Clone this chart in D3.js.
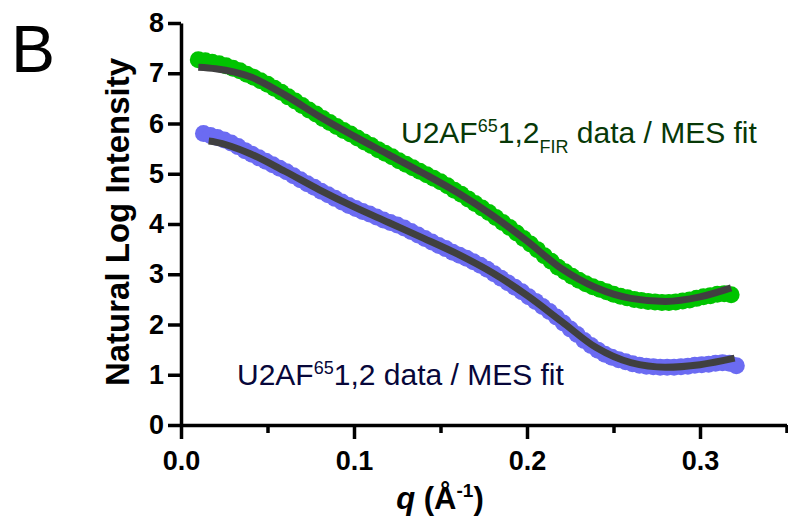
<!DOCTYPE html>
<html>
<head>
<meta charset="utf-8">
<script src="https://cdn.jsdelivr.net/npm/d3@7"></script>
<style>
  body { margin: 0; background: #fff; }
  svg text { font-family: "Liberation Sans", Arial, sans-serif; }
</style>
</head>
<body>
<div id="chart"></div>
<script>
// svg size
var svgWidth = 788;
var svgHeight = 525;

// U2AF65 1,2 FIR data (green)
var qFir = [0.010, 0.014, 0.018, 0.022, 0.026, 0.030, 0.034, 0.038, 0.042, 0.046,
  0.050, 0.054, 0.058, 0.062, 0.066, 0.070, 0.074, 0.078, 0.082, 0.086,
  0.090, 0.094, 0.098, 0.102, 0.106, 0.110, 0.114, 0.118, 0.122, 0.126,
  0.130, 0.134, 0.138, 0.142, 0.146, 0.150, 0.154, 0.158, 0.162, 0.166,
  0.170, 0.174, 0.178, 0.182, 0.186, 0.190, 0.194, 0.198, 0.202, 0.206,
  0.210, 0.214, 0.218, 0.222, 0.226, 0.230, 0.234, 0.238, 0.242, 0.246,
  0.250, 0.254, 0.258, 0.262, 0.266, 0.270, 0.274, 0.278, 0.282, 0.286,
  0.290, 0.294, 0.298, 0.302, 0.306, 0.310, 0.314, 0.318];
var lnFir = [7.27, 7.25, 7.22, 7.19, 7.15, 7.10, 7.05, 6.98, 6.92, 6.85,
  6.78, 6.70, 6.62, 6.53, 6.45, 6.36, 6.27, 6.19, 6.10, 6.02,
  5.94, 5.86, 5.79, 5.71, 5.63, 5.56, 5.48, 5.41, 5.34, 5.26,
  5.19, 5.12, 5.05, 4.98, 4.91, 4.84, 4.76, 4.67, 4.59, 4.50,
  4.41, 4.32, 4.23, 4.13, 4.03, 3.93, 3.82, 3.71, 3.60, 3.49,
  3.37, 3.26, 3.14, 3.05, 2.96, 2.88, 2.81, 2.75, 2.70, 2.65,
  2.60, 2.56, 2.53, 2.50, 2.48, 2.46, 2.45, 2.44, 2.44, 2.45,
  2.47, 2.49, 2.52, 2.55, 2.57, 2.60, 2.61, 2.59];

// U2AF65 1,2 data (blue)
var qWt = [0.013, 0.017, 0.021, 0.025, 0.029, 0.033, 0.037, 0.041, 0.045, 0.049,
  0.053, 0.057, 0.061, 0.065, 0.069, 0.073, 0.077, 0.081, 0.085, 0.089,
  0.093, 0.097, 0.101, 0.105, 0.109, 0.113, 0.117, 0.121, 0.125, 0.129,
  0.133, 0.137, 0.141, 0.145, 0.149, 0.153, 0.157, 0.161, 0.165, 0.169,
  0.173, 0.177, 0.181, 0.185, 0.189, 0.193, 0.197, 0.201, 0.205, 0.209,
  0.213, 0.217, 0.221, 0.225, 0.229, 0.233, 0.237, 0.241, 0.245, 0.249,
  0.253, 0.257, 0.261, 0.265, 0.269, 0.273, 0.277, 0.281, 0.285, 0.289,
  0.293, 0.297, 0.301, 0.305, 0.309, 0.313, 0.317, 0.321];
var lnWt = [5.80, 5.76, 5.72, 5.67, 5.61, 5.54, 5.46, 5.39, 5.32, 5.25,
  5.18, 5.11, 5.04, 4.96, 4.88, 4.80, 4.73, 4.65, 4.58, 4.51,
  4.44, 4.37, 4.31, 4.25, 4.20, 4.14, 4.08, 4.03, 3.98, 3.92,
  3.85, 3.78, 3.71, 3.64, 3.57, 3.51, 3.44, 3.38, 3.32, 3.25,
  3.18, 3.10, 3.01, 2.92, 2.83, 2.74, 2.65, 2.55, 2.46, 2.36,
  2.26, 2.15, 2.03, 1.91, 1.80, 1.68, 1.58, 1.49, 1.41, 1.35,
  1.30, 1.26, 1.22, 1.19, 1.17, 1.16, 1.15, 1.15, 1.15, 1.16,
  1.17, 1.19, 1.20, 1.21, 1.23, 1.24, 1.23, 1.18];

// MES fits
var qFirFit = [0.010, 0.020, 0.040, 0.060, 0.080, 0.100, 0.120, 0.140, 0.160,
  0.180, 0.200, 0.220, 0.240, 0.260, 0.280, 0.300, 0.318];
var lnFirFit = [7.12, 7.09, 6.93, 6.57, 6.14, 5.75, 5.38, 5.01, 4.62,
  4.17, 3.66, 3.11, 2.73, 2.52, 2.46, 2.55, 2.73];
var qWtFit = [0.016, 0.020, 0.040, 0.060, 0.080, 0.100, 0.120, 0.140, 0.160,
  0.180, 0.200, 0.220, 0.240, 0.260, 0.280, 0.300, 0.320];
var lnWtFit = [5.65, 5.63, 5.40, 5.05, 4.68, 4.34, 4.03, 3.72, 3.40,
  3.03, 2.58, 2.06, 1.54, 1.24, 1.15, 1.20, 1.33];

// ticks
var xMajor = [0, 0.1, 0.2, 0.3];
var xMinor = [0.05, 0.15, 0.25, 0.35];
var yTicks = [0, 1, 2, 3, 4, 5, 6, 7, 8];

var svg = d3.select("#chart").append("svg")
  .attr("width", svgWidth)
  .attr("height", svgHeight);

var xScale = d3.scaleLinear().domain([0, 0.35]).range([181, 786.5]);
var yScale = d3.scaleLinear().domain([0, 8]).range([425, 23]);

// data points
function drawPoints(qs, vals, color) {
  svg.append("g").selectAll("circle")
    .data(qs)
    .enter()
    .append("circle")
    .attr("cx", d => xScale(d))
    .attr("cy", (d, i) => yScale(vals[i]))
    .attr("r", 8.5)
    .attr("fill", color);
}
drawPoints(qFir, lnFir, "#00c400");
drawPoints(qWt, lnWt, "#6b6bf2");

// fit lines
var line = d3.line()
  .x(d => xScale(d[0]))
  .y(d => yScale(d[1]))
  .curve(d3.curveMonotoneX);

function drawFit(qs, vals) {
  svg.append("path")
    .datum(qs.map((q, i) => [q, vals[i]]))
    .attr("d", line)
    .attr("fill", "none")
    .attr("stroke", "#404040")
    .attr("stroke-width", 7);
}
drawFit(qFirFit, lnFirFit);
drawFit(qWtFit, lnWtFit);

// axes
svg.append("g")
  .attr("transform", "translate(0," + yScale(0) + ")")
  .call(d3.axisBottom(xScale).tickValues(xMajor).tickSize(14).tickSizeOuter(0)
    .tickPadding(12).tickFormat(d3.format(".1f")));
svg.append("g")
  .attr("transform", "translate(0," + yScale(0) + ")")
  .call(d3.axisBottom(xScale).tickValues(xMinor).tickSize(8).tickSizeOuter(0)
    .tickFormat(""))
  .select(".domain").remove();
svg.append("g")
  .attr("transform", "translate(" + xScale(0) + ",0)")
  .call(d3.axisLeft(yScale).tickValues(yTicks).tickSize(13).tickSizeOuter(0)
    .tickPadding(4).tickFormat(d3.format("d")));

svg.selectAll(".domain, .tick line")
  .attr("stroke", "#000")
  .attr("stroke-width", 3.5);
svg.selectAll(".tick text")
  .attr("fill", "#000")
  .style("font-size", "27px")
  .style("font-weight", "bold");

// axis titles
svg.append("text")
  .attr("transform", "translate(129,222) rotate(-90)")
  .attr("text-anchor", "middle")
  .style("font-size", "33px")
  .style("font-weight", "bold")
  .text("Natural Log Intensity");

var xTitle = svg.append("text")
  .attr("x", 440)
  .attr("y", 509)
  .attr("text-anchor", "middle")
  .style("font-size", "31px")
  .style("font-weight", "bold");
xTitle.append("tspan").style("font-style", "italic").text("q");
xTitle.append("tspan").text(" (Å");
xTitle.append("tspan").attr("dy", -12).style("font-size", "19px").text("-1");
xTitle.append("tspan").attr("dy", 12).text(")");

// series labels
var lab1 = svg.append("text")
  .attr("x", 401)
  .attr("y", 143)
  .attr("fill", "#073807")
  .style("font-size", "30px");
lab1.append("tspan").text("U2AF");
lab1.append("tspan").attr("dy", -11).style("font-size", "18px").text("65");
lab1.append("tspan").attr("dy", 11).text("1,2");
lab1.append("tspan").attr("dy", 10).style("font-size", "18px").text("FIR");
lab1.append("tspan").attr("dy", -10).text(" data / MES fit");

var lab2 = svg.append("text")
  .attr("x", 237)
  .attr("y", 385)
  .attr("fill", "#07073a")
  .style("font-size", "30px");
lab2.append("tspan").text("U2AF");
lab2.append("tspan").attr("dy", -11).style("font-size", "18px").text("65");
lab2.append("tspan").attr("dy", 11).text("1,2 data / MES fit");

// panel letter
svg.append("text")
  .attr("x", 11)
  .attr("y", 72)
  .style("font-size", "66px")
  .text("B");
</script>
</body>
</html>
